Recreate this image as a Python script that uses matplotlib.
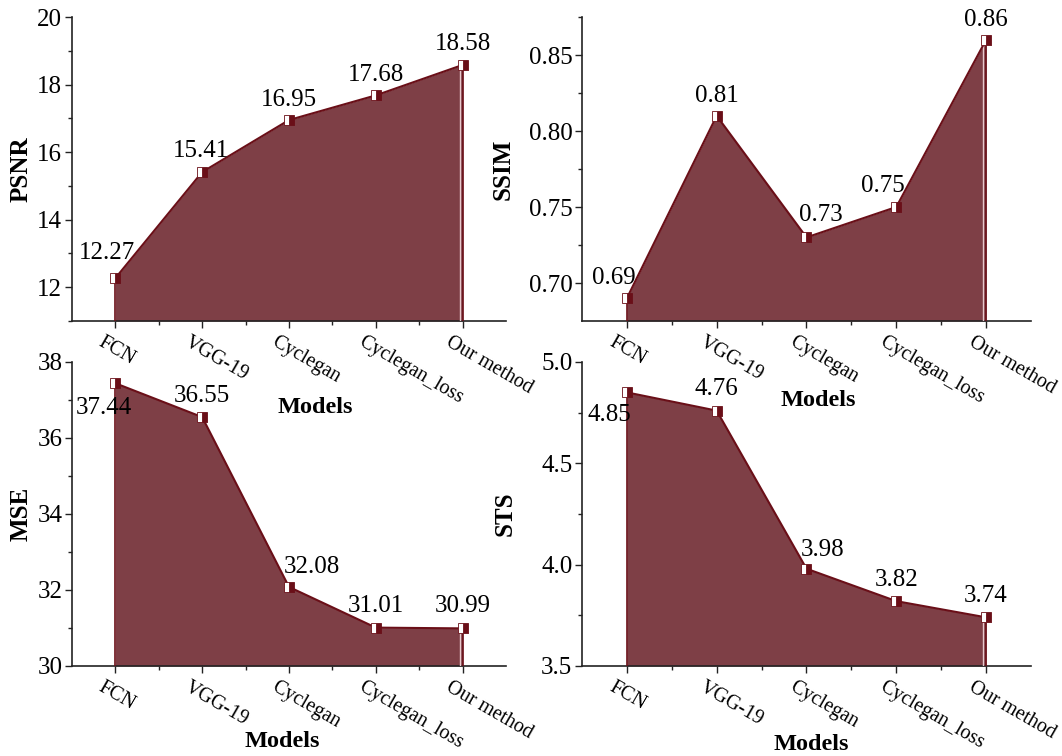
import matplotlib
matplotlib.use("Agg")
import matplotlib.pyplot as plt
import matplotlib.transforms as mtransforms
import numpy as np

models = ["FCN", "VGG-19", "Cyclegan", "Cyclegan_loss", "Our method"]
psnr = [12.27, 15.41, 16.95, 17.68, 18.58]
ssim = [0.69, 0.81, 0.73, 0.75, 0.86]
mse = [37.44, 36.55, 32.08, 31.01, 30.99]
sts = [4.85, 4.76, 3.98, 3.82, 3.74]
psnr_labels = ["12.27", "15.41", "16.95", "17.68", "18.58"]
ssim_labels = ["0.69", "0.81", "0.73", "0.75", "0.86"]
mse_labels = ["37.44", "36.55", "32.08", "31.01", "30.99"]
sts_labels = ["4.85", "4.76", "3.98", "3.82", "3.74"]

plt.rcParams['font.family'] = ['Liberation Serif', 'DejaVu Serif']

FILL = "#7E3F46"
LINE = "#6A0F18"

fig = plt.figure(figsize=(10.62, 7.56), dpi=100)
W, H = 1062, 756

def ax_at(l, t, r, b):
    return fig.add_axes([l / W, 1 - b / H, (r - l) / W, (b - t) / H])

panels = [
    dict(box=(72, 17, 506, 321), vals=psnr, labs=psnr_labels, ylabel="PSNR",
         ylim=(11, 20), major=[12, 14, 16, 18, 20], minor=[11, 13, 15, 17, 19],
         fmt="{:.0f}", offs=[(-8, 25), (-1, 21), (0, 20), (0, 20), (0, 21)],
         ylc=-0.09, xlc=(0.56, -0.25)),
    dict(box=(582, 17, 1031, 321), vals=ssim, labs=ssim_labels, ylabel="SSIM",
         ylim=(0.675, 0.875), major=[0.70, 0.75, 0.80, 0.85], minor=[0.725, 0.775, 0.825, 0.875],
         fmt="{:.2f}", offs=[(-13, 20), (0, 20), (14, 22), (-13, 21), (0, 20)],
         ylc=-0.149, xlc=(0.526, -0.227)),
    dict(box=(72, 362, 506, 666), vals=mse, labs=mse_labels, ylabel="MSE",
         ylim=(30, 38), major=[30, 32, 34, 36, 38], minor=[31, 33, 35, 37],
         fmt="{:.0f}", offs=[(-12, -25), (0, 21), (23, 20), (0, 22), (0, 22)],
         ylc=-0.09, xlc=(0.484, -0.213)),
    dict(box=(582, 362, 1031, 666), vals=sts, labs=sts_labels, ylabel="STS",
         ylim=(3.5, 5.0), major=[3.5, 4.0, 4.5, 5.0], minor=[3.75, 4.25, 4.75],
         fmt="{:.1f}", offs=[(-18, -23), (0, 22), (16, 19), (0, 21), (0, 21)],
         ylc=-0.145, xlc=(0.51, -0.223)),
]

x = np.arange(len(models))
for p in panels:
    ax = ax_at(*p["box"])
    base = p["ylim"][0]
    ax.fill_between(x, p["vals"], base, color=FILL, linewidth=0, zorder=2)
    ax.plot([x[0], x[0]], [base, p["vals"][0]], color=LINE, lw=1.2, zorder=3)
    ax.plot([x[-1], x[-1]], [base, p["vals"][-1]], color=LINE, lw=1.2, zorder=3)
    ax.plot([x[-1] - 0.03, x[-1] - 0.03], [base, p["vals"][-1]], color="#E8C8CC", lw=1.0, zorder=3)
    ax.plot(x, p["vals"], color=LINE, lw=1.5, zorder=4,
            marker="s", markersize=7, fillstyle="right",
            markerfacecolor=LINE, markerfacecoloralt="white",
            markeredgecolor=LINE, markeredgewidth=0.6)
    for xi, v, lab, off in zip(x, p["vals"], p["labs"], p["offs"]):
        ax.annotate(lab, (xi, v), xytext=off, textcoords="offset pixels",
                    ha="center", va="center", fontsize=18, zorder=5)
    ax.set_xlim(-0.5, 4.5)
    ax.set_ylim(*p["ylim"])
    ax.set_yticks(p["major"])
    ax.set_yticklabels([p["fmt"].format(t) for t in p["major"]], fontsize=18)
    ax.set_yticks(p["minor"], minor=True)
    ax.set_xticks(x)
    ax.set_xticks(x[:-1] + 0.5, minor=True)
    ax.set_xticklabels([])
    trans = mtransforms.blended_transform_factory(ax.transData, ax.transAxes) + \
        mtransforms.ScaledTranslation(-11 / 100, -12 / 100, fig.dpi_scale_trans)
    for xi, name in zip(x, models):
        ax.text(xi, 0, name, transform=trans, fontsize=14.5, rotation=-30,
                ha="left", va="top", rotation_mode="anchor", clip_on=False)
    ax.tick_params(axis="both", which="major", length=5, width=1.0, direction="out", color="#222222")
    ax.tick_params(axis="both", which="minor", length=3, width=1.0, direction="out", color="#222222")
    ax.tick_params(axis="y", pad=2)
    for s in ["top", "right"]:
        ax.spines[s].set_visible(False)
    for s in ["left", "bottom"]:
        ax.spines[s].set_linewidth(1.2)
        ax.spines[s].set_color("#222222")
    ax.set_ylabel(p["ylabel"], fontsize=18, fontweight="bold")
    ax.yaxis.set_label_coords(p["ylc"], 0.5)
    ax.set_xlabel("Models", fontsize=17.5, fontweight="bold")
    ax.xaxis.set_label_coords(*p["xlc"])
    ax.set_facecolor("none")

fig.savefig("out.png", dpi=100)
